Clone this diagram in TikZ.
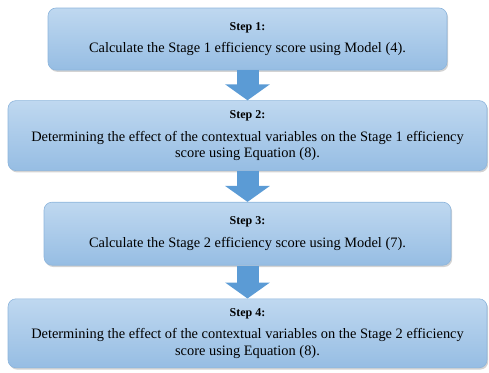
\documentclass[tikz,border=0pt]{standalone}
\usepackage{fontspec}
\setmainfont{Liberation Serif}
\usetikzlibrary{positioning,shadows,arrows.meta}
\definecolor{boxtop}{HTML}{BFD8F0}
\definecolor{boxbottom}{HTML}{96BDE3}
\definecolor{boxedge}{HTML}{8DB5DC}
\definecolor{arrowblue}{HTML}{5B9BD5}
\tikzset{
	stepbox/.style={rounded corners=8pt, top color=boxtop, bottom color=boxbottom,
		draw=boxedge, line width=0.6pt, align=center, font=\fontsize{14.4}{16.5}\selectfont,
		drop shadow={opacity=0.35, shadow xshift=1.2pt, shadow yshift=-1.8pt}},
	bigarrow/.style={draw=arrowblue, line width=22pt,
		-{Triangle[length=16pt, width=44pt]}}
}
\newcommand{\stephead}[1]{{\fontsize{12}{14}\selectfont\bfseries #1}\\[6pt]}
\begin{document}
\begin{tikzpicture}
	\useasboundingbox (0,0) rectangle (489pt,-372pt);
	\node[stepbox, minimum width=399pt, minimum height=62pt] (s1) at (247.5pt,-39pt)
		{\stephead{Step 1:}Calculate the Stage 1 efficiency score using Model (4).};
	\node[stepbox, minimum width=479pt, minimum height=70pt, below=30pt of s1] (s2)
		{\stephead{Step 2:}Determining the effect of the contextual variables on the Stage 1 efficiency\\score using Equation (8).};
	\node[stepbox, minimum width=407pt, minimum height=63pt, below=31pt of s2] (s3)
		{\stephead{Step 3:}Calculate the Stage 2 efficiency score using Model (7).};
	\node[stepbox, minimum width=479pt, minimum height=69pt, below=33pt of s3] (s4)
		{\stephead{Step 4:}Determining the effect of the contextual variables on the Stage 2 efficiency\\score using Equation (8).};
	\draw[bigarrow] (s1.south) -- (s2.north);
	\draw[bigarrow] (s2.south) -- (s3.north);
	\draw[bigarrow] (s3.south) -- (s4.north);
\end{tikzpicture}
\end{document}
